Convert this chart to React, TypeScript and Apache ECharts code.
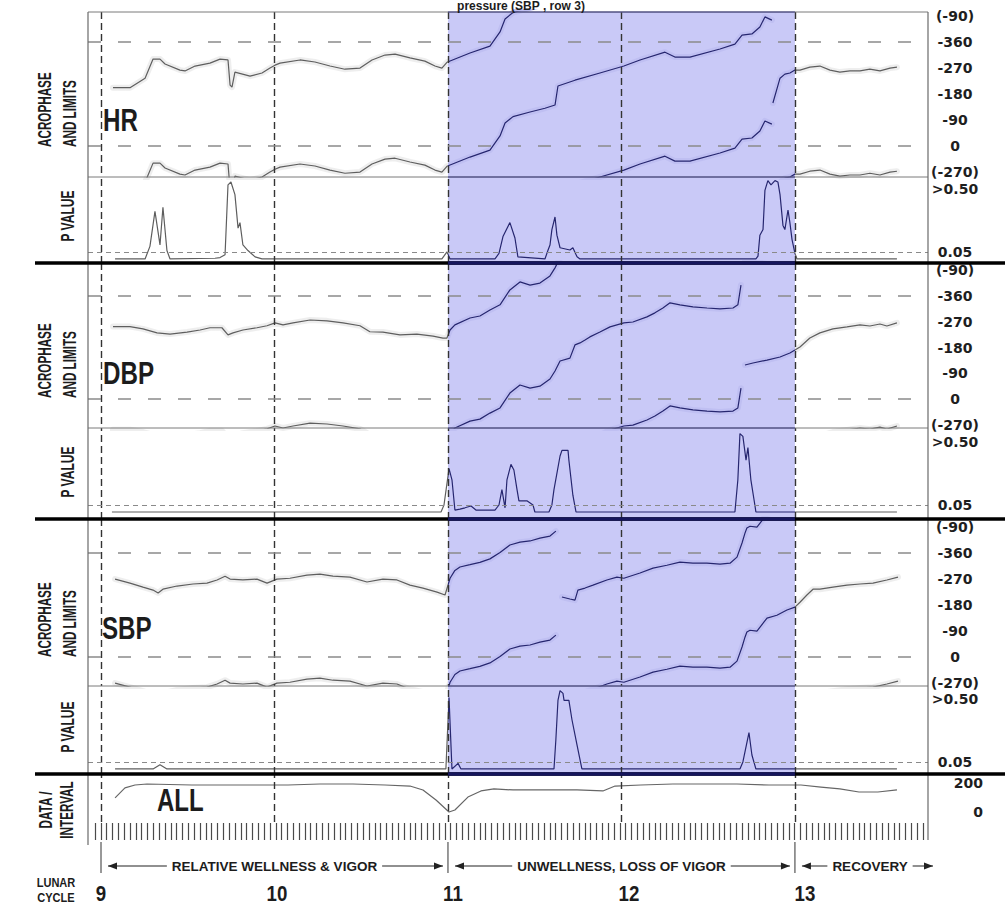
import React, { useEffect, useRef } from 'react';
import * as echarts from 'echarts';

// ---------------- data (time in lunar cycles) ----------------
const CYCLES = [9, 10, 11, 12, 13];
const CYCLE_LABELS = ['9', '10', '11', '12', '13'];
const BLUE_RANGE = [11, 13];
const PHASES = [
  { from: 9, to: 11, text: 'RELATIVE WELLNESS & VIGOR' },
  { from: 11, to: 13, text: 'UNWELLNESS, LOSS OF VIGOR' },
  { from: 13, to: null as number | null, text: 'RECOVERY' },
];
const ACRO_TICKS = [-450, -360, -270, -180, -90, 0, 90];
const ACRO_TICK_LABELS = ['(-90)', '-360', '-270', '-180', '-90', '0', '(-270)'];
const ACRO_REF = [-360, 0];
const P_TICKS = [0.5, 0.05];
const P_TICK_LABELS = ['>0.50', '0.05'];
const P_REF = [0.05];
const ALL_TICKS = [200, 0];
const ALL_TICK_LABELS = ['200', '0'];
const WRAP_COPIES = [0, 360, 720, 1080];
const HATCH_DAYS = 142;

// acrophase (unwrapped, degrees), null = break
const HR_ACRO: [number, number | null][] = [
  [9.069, -202], [9.167, -202], [9.254, -235], [9.3, -301], [9.34, -301], [9.369, -284], [9.455, -263], [9.484, -260],
  [9.542, -277], [9.628, -287], [9.686, -301], [9.732, -298], [9.744, -211], [9.755, -204], [9.772, -256], [9.859, -242],
  [9.928, -253], [9.974, -270], [10.003, -280], [10.032, -287], [10.147, -298], [10.233, -291], [10.32, -277], [10.406, -266],
  [10.493, -270], [10.562, -298], [10.637, -315], [10.695, -318], [10.781, -305], [10.867, -294], [10.925, -277], [10.965, -270],
  [10.994, -290], [11.127, -322], [11.242, -346], [11.3, -395], [11.329, -440], [11.375, -462], [11.473, -478], [11.559, -491],
  [11.617, -502], [11.634, -568], [11.732, -588], [11.876, -613], [12.014, -637], [12.107, -658], [12.251, -685], [12.308, -668],
  [12.395, -668], [12.568, -696], [12.654, -713], [12.695, -744], [12.752, -748], [12.798, -772], [12.827, -807], [12.867, -796],
  [12.87, null],
  [12.873, -869], [12.914, -955], [12.942, -969], [12.971, -973], [13.0, -983], [13.029, -983], [13.086, -993], [13.144, -997],
  [13.202, -983], [13.259, -976], [13.317, -980], [13.375, -980], [13.432, -986], [13.49, -980], [13.548, -990], [13.588, -993],
];
const DBP_ACRO: [number, number | null][] = [
  [9.069, -253], [9.167, -253], [9.242, -245], [9.323, -231], [9.398, -227], [9.496, -234], [9.571, -241], [9.628, -249],
  [9.697, -249], [9.732, -224], [9.761, -231], [9.818, -241], [9.899, -249], [9.957, -256], [10.003, -266], [10.049, -259],
  [10.107, -266], [10.205, -276], [10.303, -273], [10.395, -266], [10.493, -256], [10.55, -235], [10.625, -234], [10.723, -224],
  [10.821, -227], [10.914, -220], [10.971, -213], [10.994, -213], [11.012, -241], [11.04, -259], [11.127, -283], [11.184, -290],
  [11.242, -311], [11.3, -329], [11.357, -381], [11.415, -409], [11.473, -398], [11.53, -405], [11.588, -430], [11.617, -458],
  [11.646, -493], [11.703, -503], [11.732, -549], [11.761, -556], [11.79, -566], [11.818, -577], [11.876, -594], [11.934, -612],
  [12.014, -626], [12.066, -629], [12.147, -647], [12.193, -661], [12.239, -678], [12.28, -696], [12.337, -689], [12.412, -682],
  [12.493, -678], [12.568, -675], [12.643, -678], [12.671, -689], [12.689, -758],
  [12.7, null],
  [12.712, -839], [12.758, -846], [12.839, -856], [12.914, -867], [12.971, -881], [13.0, -891], [13.029, -902], [13.086, -933],
  [13.144, -951], [13.219, -965], [13.3, -972], [13.375, -979], [13.432, -975], [13.49, -982], [13.53, -975], [13.588, -986],
];
const SBP_ACRO: [number, number | null][] = [
  [9.081, -270], [9.167, -256], [9.242, -242], [9.3, -232], [9.329, -222], [9.357, -235], [9.438, -246], [9.53, -253],
  [9.611, -256], [9.669, -267], [9.715, -280], [9.744, -270], [9.818, -267], [9.899, -270], [9.957, -256], [10.014, -270],
  [10.089, -273], [10.187, -284], [10.262, -287], [10.337, -280], [10.435, -277], [10.533, -260], [10.625, -270], [10.706, -267],
  [10.781, -249], [10.856, -239], [10.937, -225], [10.983, -215], [11.012, -273], [11.04, -300], [11.069, -312], [11.127, -320],
  [11.184, -328], [11.242, -340], [11.3, -362], [11.357, -388], [11.415, -398], [11.473, -402], [11.53, -412], [11.588, -419],
  [11.622, -436],
  [11.64, null],
  [11.657, -568], [11.703, -561], [11.732, -557], [11.749, -592], [11.79, -599], [11.836, -609], [11.916, -627], [11.974, -637],
  [12.014, -633], [12.107, -651], [12.182, -668], [12.262, -678], [12.337, -689], [12.412, -685], [12.493, -685], [12.568, -682],
  [12.626, -685], [12.666, -706], [12.695, -755], [12.712, -789], [12.723, -807], [12.741, -813], [12.781, -810], [12.839, -855],
  [12.896, -865], [12.954, -883], [13.0, -893], [13.029, -910], [13.069, -935], [13.104, -955], [13.144, -955], [13.219, -962],
  [13.3, -969], [13.375, -973], [13.45, -976], [13.53, -987], [13.594, -997],
];

// P values
const HR_P: [number, number][] = [
  [9.081, 0], [9.254, 0], [9.282, 0.09], [9.311, 0.34], [9.34, 0.1], [9.357, 0.37], [9.38, 0.06], [9.398, 0],
  [9.657, 0.005], [9.686, 0.01], [9.715, 0.03], [9.732, 0.53], [9.749, 0.55], [9.772, 0.46], [9.79, 0.22], [9.801, 0.26],
  [9.818, 0.1], [9.847, 0.06], [9.888, 0.015], [9.928, 0], [10.965, 0], [10.994, 0.05], [11.012, 0], [11.271, 0],
  [11.294, 0.04], [11.317, 0.16], [11.357, 0.26], [11.386, 0.15], [11.403, 0.015], [11.559, 0], [11.576, 0.06], [11.588, 0.1],
  [11.599, 0.21], [11.617, 0.3], [11.628, 0.17], [11.646, 0.08], [11.703, 0.064], [11.72, 0.08], [11.744, 0.015], [11.761, 0],
  [12.775, 0], [12.787, 0.02], [12.798, 0.17], [12.816, 0.21], [12.827, 0.49], [12.844, 0.56], [12.862, 0.53], [12.885, 0.56],
  [12.902, 0.55], [12.914, 0.46], [12.931, 0.24], [12.942, 0.21], [12.96, 0.35], [12.971, 0.26], [12.983, 0.14], [13.0, 0.04],
  [13.012, 0], [13.588, 0],
];
const DBP_P: [number, number][] = [
  [9.063, 0], [10.96, 0], [10.977, 0.05], [11.006, 0.31], [11.023, 0.23], [11.04, 0.014], [11.069, 0.02], [11.098, 0.03],
  [11.133, 0.043], [11.161, 0.014], [11.271, 0.014], [11.294, 0.05], [11.311, 0.16], [11.329, 0.03], [11.34, 0.23], [11.363, 0.34],
  [11.38, 0.3], [11.398, 0.16], [11.409, 0.08], [11.455, 0.08], [11.49, 0.05], [11.501, 0], [11.582, 0], [11.599, 0.05],
  [11.611, 0.16], [11.646, 0.4], [11.657, 0.44], [11.692, 0.44], [11.697, 0.37], [11.72, 0.12], [11.738, 0], [12.654, 0],
  [12.671, 0.23], [12.683, 0.56], [12.7, 0.54], [12.718, 0.37], [12.729, 0.46], [12.746, 0.23], [12.769, 0.05], [12.775, 0],
  [13.588, 0],
];
const SBP_P: [number, number][] = [
  [9.081, 0], [9.3, 0], [9.34, 0.03], [9.38, 0], [10.988, 0], [11.006, 0.51], [11.023, 0], [11.058, 0.04],
  [11.075, 0], [11.611, 0], [11.622, 0.21], [11.634, 0.49], [11.646, 0.56], [11.663, 0.54], [11.669, 0.49], [11.697, 0.49],
  [11.715, 0.35], [11.744, 0.17], [11.772, 0], [12.683, 0], [12.7, 0.05], [12.735, 0.26], [12.752, 0.1], [12.775, 0],
  [13.588, 0],
];
// data per interval
const ALL_DATA: [number, number][] = [
  [9.081, 97], [9.138, 166], [9.196, 186], [9.265, 193], [9.524, 186], [9.893, 186], [10.078, 186], [10.262, 193],
  [10.452, 193], [10.637, 186], [10.781, 179], [10.856, 152], [10.931, 83], [11.006, 0], [11.04, 14], [11.115, 103],
  [11.19, 145], [11.265, 159], [11.375, 152], [11.559, 152], [11.744, 152], [11.893, 145], [11.963, 179], [12.112, 186],
  [12.297, 193], [12.481, 193], [12.666, 193], [12.85, 186], [13.035, 186], [13.15, 172], [13.259, 159], [13.369, 138],
  [13.478, 138], [13.588, 152],
];

// ---------------- layout ----------------
const X_MIN = 8.925;
const X_MAX = 13.767;
const LEFT = 88;
const RIGHT = 77;
const PANELS = [
  { top: 12, height: 165, kind: 'acro', range: [-464, 107] },
  { top: 177, height: 86, kind: 'p', range: [-0.029, 0.586] },
  { top: 263, height: 165, kind: 'acro', range: [-475, 101] },
  { top: 428, height: 91, kind: 'p', range: [-0.05, 0.6] },
  { top: 519, height: 167, kind: 'acro', range: [-478, 100] },
  { top: 686, height: 88, kind: 'p', range: [-0.036, 0.593] },
  { top: 774, height: 48, kind: 'all', range: [-69, 262] },
];
const GRAY = '#5e5e5e';
const NAVY = '#26266f';
const BLUE = '#c9c9f7';
const COND = '"Liberation Sans", Arial, Helvetica, sans-serif';

function pick(ticks: number[], labels: string[]) {
  return (v: number) => {
    const i = ticks.findIndex((t) => Math.abs(t - v) < 1e-9);
    return i >= 0 ? labels[i] : '';
  };
}

export default function App() {
  const ref = useRef<HTMLDivElement>(null);
  useEffect(() => {
    const el = ref.current!;
    const chart = echarts.init(el, null, { renderer: 'svg' });
    const axisFont = { fontFamily: '"DejaVu Sans", Verdana, sans-serif', fontWeight: 'bold', fontSize: 14, color: '#1e1e1e' };

    const grid: any[] = PANELS.map((p) => ({ left: LEFT, right: RIGHT, top: p.top, height: p.height }));
    grid.push({ left: 95, right: 82, top: 822, height: 18 });

    const xAxis: any[] = PANELS.map((_, i) => ({ gridIndex: i, type: 'value', min: X_MIN, max: X_MAX, show: false }));
    xAxis.push({
      gridIndex: 7, type: 'category', boundaryGap: true,
      data: Array.from({ length: HATCH_DAYS }, (_, i) => String(i + 1)),
      axisLine: { show: false }, axisLabel: { show: false },
      axisTick: { show: true, inside: true, length: 17, interval: 0, lineStyle: { color: '#4a4a4a', width: 1.2 } },
    });

    const yAxis: any[] = PANELS.map((p, i) => {
      const base: any = {
        gridIndex: i, type: 'value', min: p.range[0], max: p.range[1], position: 'right',
        axisLine: { show: false }, axisTick: { show: false }, splitLine: { show: false },
      };
      if (p.kind === 'acro') {
        base.inverse = true;
        base.axisLabel = { customValues: ACRO_TICKS, formatter: pick(ACRO_TICKS, ACRO_TICK_LABELS), margin: 27, align: 'center', ...axisFont };
      } else if (p.kind === 'p') {
        base.axisLabel = { customValues: P_TICKS, formatter: pick(P_TICKS, P_TICK_LABELS), margin: 27, align: 'center', ...axisFont };
      } else {
        base.axisLabel = { customValues: ALL_TICKS, formatter: pick(ALL_TICKS, ALL_TICK_LABELS), margin: 55, align: 'right', ...axisFont };
      }
      return base;
    });
    yAxis.push({ gridIndex: 7, type: 'value', show: false });

    const series: any[] = [];
    const lineIdx: number[] = [];
    const bandIdx: number[] = [];
    const vDash = {
      silent: true, symbol: ['none', 'none'], label: { show: false },
      lineStyle: { type: [7, 4], color: '#333', width: 1.4 },
      data: CYCLES.map((c) => ({ xAxis: c })),
    };

    PANELS.forEach((p, g) => {
      if (p.kind !== 'all') {
        series.push({
          type: 'line', xAxisIndex: g, yAxisIndex: g, data: [], silent: true, z: 1,
          markArea: { silent: true, itemStyle: { color: BLUE }, data: [[{ xAxis: BLUE_RANGE[0] }, { xAxis: BLUE_RANGE[1] }]] },
        });
      }
      const hLines =
        p.kind === 'acro'
          ? ACRO_REF.map((v) => ({ yAxis: v, lineStyle: { type: [13, 17], color: '#8a8a8a', width: 1.5 } }))
          : p.kind === 'p'
          ? P_REF.map((v) => ({ yAxis: v, lineStyle: { type: [5, 4], color: '#8a8a8a', width: 1.2 } }))
          : [];
      series.push({
        type: 'line', xAxisIndex: g, yAxisIndex: g, data: [], silent: true, z: 2,
        markLine: { ...vDash, data: [...vDash.data, ...hLines] },
      });
    });

    const addAcro = (g: number, data: [number, number | null][]) => {
      WRAP_COPIES.forEach((k) => {
        const shifted = data.map(([t, v]) => [t, v === null ? '-' : v + k]);
        bandIdx.push(series.length);
        series.push({
          type: 'line', xAxisIndex: g, yAxisIndex: g, data: shifted, symbol: 'none', silent: true, z: 3, clip: true,
          lineStyle: { width: 6, join: 'round', cap: 'round' },
        });
        lineIdx.push(series.length);
        series.push({
          type: 'line', xAxisIndex: g, yAxisIndex: g, data: shifted, symbol: 'none', silent: true, z: 4, clip: true,
          lineStyle: { width: 1.2 },
        });
      });
    };
    const addP = (g: number, data: [number, number][]) => {
      lineIdx.push(series.length);
      series.push({
        type: 'line', xAxisIndex: g, yAxisIndex: g, data, symbol: 'none', silent: true, z: 4, clip: true,
        lineStyle: { width: 1.2 },
      });
    };
    addAcro(0, HR_ACRO);
    addP(1, HR_P);
    addAcro(2, DBP_ACRO);
    addP(3, DBP_P);
    addAcro(4, SBP_ACRO);
    addP(5, SBP_P);
    series.push({
      type: 'line', xAxisIndex: 6, yAxisIndex: 6, data: ALL_DATA, symbol: 'none', silent: true, z: 4,
      lineStyle: { width: 1.2, color: '#666' },
    });
    series.push({ type: 'line', xAxisIndex: 7, yAxisIndex: 7, data: [], silent: true });

    const pieces = (out: string, inside: string) => [
      { lt: BLUE_RANGE[0], color: out },
      { gte: BLUE_RANGE[0], lte: BLUE_RANGE[1], color: inside },
      { gt: BLUE_RANGE[1], color: out },
    ];

    chart.setOption({
      animation: false,
      backgroundColor: '#fff',
      grid, xAxis, yAxis, series,
      visualMap: [
        { type: 'piecewise', show: false, dimension: 0, seriesIndex: lineIdx, pieces: pieces(GRAY, NAVY) },
        { type: 'piecewise', show: false, dimension: 0, seriesIndex: bandIdx, pieces: pieces('#eeeeee', '#bfbff2') },
      ],
    });

    const px = (v: number) => chart.convertToPixel({ xAxisIndex: 0 }, v) as number;
    const b0 = px(BLUE_RANGE[0]);
    const b1 = px(BLUE_RANGE[1]);
    const gl = LEFT;
    const gr = 1005 - RIGHT;
    const g: any[] = [];
    const line = (x1: number, y1: number, x2: number, y2: number, stroke: string, w: number) =>
      g.push({ type: 'line', z: 50, silent: true, shape: { x1, y1, x2, y2 }, style: { stroke, lineWidth: w } });
    const text = (t: string, x: number, y: number, size: number, o: any = {}) =>
      g.push({
        type: 'text', z: 60, silent: true, x, y, scaleX: o.sx ?? 1, rotation: o.rot ?? 0,
        style: {
          text: t, fill: '#1c1c1c', font: `bold ${size}px ${COND}`, align: o.align ?? 'center',
          verticalAlign: o.va ?? 'middle', backgroundColor: o.bg, padding: o.bg ? [0, 5] : 0,
        },
      });

    // frame
    line(gl, 12, gr, 12, '#7a7a7a', 1);
    line(b0, 12, b1, 12, '#3c3c85', 1);
    [177, 428, 686].forEach((y) => {
      line(gl, y, gr, y, '#7a7a7a', 1);
      line(b0, y, b1, y, '#3c3c85', 1);
    });
    line(gl, 12, gl, 845, '#6a6a6a', 1.2);
    line(gr, 12, gr, 840, '#6a6a6a', 1.2);
    [263, 519, 774].forEach((y) => {
      line(35, y, 1005, y, '#000', 3.5);
      line(b0, y, b1, y, '#15155c', 3.5);
    });

    // phase arrows
    const ay = 866;
    [9, 11, 13].forEach((c) => line(px(c), 842, px(c), 873, '#333', 1));
    PHASES.forEach((ph) => {
      const l = px(ph.from) + 7;
      const r = ph.to !== null ? px(ph.to) - 5 : 933;
      const mid = ph.to !== null ? (px(ph.from) + px(ph.to)) / 2 : 870;
      line(l, ay, r, ay, '#222', 1.2);
      g.push({ type: 'polygon', z: 55, silent: true, shape: { points: [[l, ay], [l + 9, ay - 3.5], [l + 9, ay + 3.5]] }, style: { fill: '#222' } });
      g.push({ type: 'polygon', z: 55, silent: true, shape: { points: [[r, ay], [r - 9, ay - 3.5], [r - 9, ay + 3.5]] }, style: { fill: '#222' } });
      text(ph.text, mid, ay, 13.5, { bg: '#fff' });
    });

    // lunar cycle labels
    CYCLES.forEach((c, i) => text(CYCLE_LABELS[i], px(c) + 2.5 * (c - 9), 893, 22, { sx: 0.85 }));
    text('LUNAR', 56, 883, 13, { sx: 0.85 });
    text('CYCLE', 56, 898, 13, { sx: 0.85 });

    // left axis titles
    const ROT = Math.PI / 2;
    [147, 398, 657].forEach((y0) => {
      text('ACROPHASE', 44.5, y0, 18, { sx: 0.65, rot: ROT, align: 'left' });
      text('AND LIMITS', 69, y0, 18, { sx: 0.65, rot: ROT, align: 'left' });
    });
    [216, 472, 727].forEach((y0) => text('P VALUE', 67.5, y0, 18, { sx: 0.67, rot: ROT }));
    text('DATA /', 45, 810, 18, { sx: 0.65, rot: ROT });
    text('INTERVAL', 66, 810, 18, { sx: 0.65, rot: ROT });

    // panel names
    text('HR', 103, 120, 31, { sx: 0.78, align: 'left' });
    text('DBP', 103, 373, 31, { sx: 0.78, align: 'left' });
    text('SBP', 102, 628, 31, { sx: 0.78, align: 'left' });
    text('ALL', 157, 800, 32, { sx: 0.75, align: 'left' });

    // title (cropped at the top of the reference)
    text('pressure (SBP , row 3)', 521, 0, 12, { va: 'top' });

    chart.setOption({ graphic: g });
    return () => chart.dispose();
  }, []);
  return (
    <div
      ref={ref}
      style={{ position: 'fixed', left: 0, top: 0, width: 1005, height: 905, background: '#fff' }}
    />
  );
}
